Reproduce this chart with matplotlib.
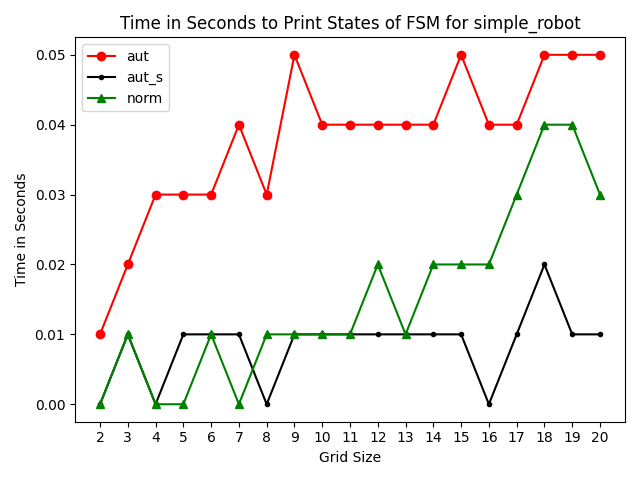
import matplotlib
matplotlib.use("Agg")
import matplotlib.pyplot as plt

grid_sizes = list(range(2, 21))
aut = [0.01, 0.02, 0.03, 0.03, 0.03, 0.04, 0.03, 0.05, 0.04, 0.04,
       0.04, 0.04, 0.04, 0.05, 0.04, 0.04, 0.05, 0.05, 0.05]
aut_s = [0.0, 0.01, 0.0, 0.01, 0.01, 0.01, 0.0, 0.01, 0.01, 0.01,
         0.01, 0.01, 0.01, 0.01, 0.0, 0.01, 0.02, 0.01, 0.01]
norm = [0.0, 0.01, 0.0, 0.0, 0.01, 0.0, 0.01, 0.01, 0.01, 0.01,
        0.02, 0.01, 0.02, 0.02, 0.02, 0.03, 0.04, 0.04, 0.03]

fig, ax = plt.subplots(figsize=(6.4, 4.8), dpi=100)
ax.plot(grid_sizes, aut, 'ro-', label='aut')
ax.plot(grid_sizes, aut_s, 'k.-', label='aut_s')
ax.plot(grid_sizes, norm, 'g^-', label='norm')
ax.set_xticks(grid_sizes)
ax.set_xlabel('Grid Size')
ax.set_ylabel('Time in Seconds')
ax.set_title('Time in Seconds to Print States of FSM for simple_robot')
ax.legend(loc='upper left')
plt.tight_layout()
plt.savefig('out.png')
